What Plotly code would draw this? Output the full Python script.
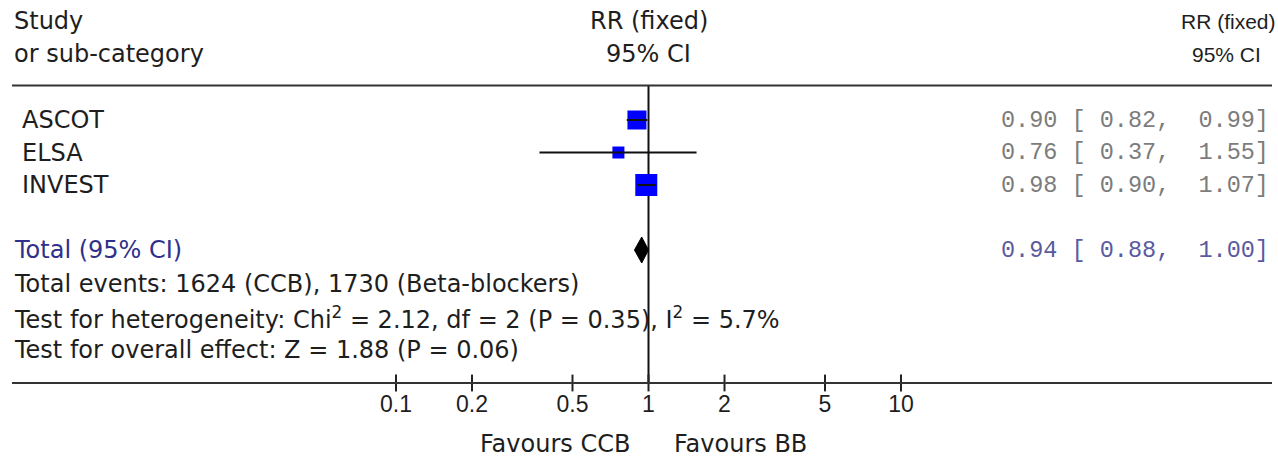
import math
import plotly.graph_objects as go

# Study-level risk ratios (fixed effect) with 95% CI
studies = ["ASCOT", "ELSA", "INVEST"]
rr = [0.90, 0.76, 0.98]
ci_low = [0.82, 0.37, 0.90]
ci_high = [0.99, 1.55, 1.07]

# Pooled estimate
total_label = "Total (95% CI)"
total_rr = 0.94
total_low = 0.88
total_high = 1.00

# Axis ticks
tick_vals = [0.1, 0.2, 0.5, 1, 2, 5, 10]
tick_text = ["0.1", "0.2", "0.5", "1", "2", "5", "10"]

footnotes = [
    "Total events: 1624 (CCB), 1730 (Beta-blockers)",
    "Test for heterogeneity: Chi<sup>2</sup> = 2.12, df = 2 (P = 0.35), I<sup>2</sup> = 5.7%",
    "Test for overall effect: Z = 1.88 (P = 0.06)",
]
favours_left = "Favours CCB"
favours_right = "Favours BB"

# ---- layout constants (pixels, y measured from the top) ----
W, H = 1278, 461
X_ONE = 648.5          # pixel column of RR = 1
DECADE = 252.5         # pixels per log10 unit
row_y = [120, 152.5, 185]
total_y = 250
foot_y = [284, 318, 350]
header_line_y = 85.5
axis_y = 383
box_px = [19, 12, 22]  # square size per study (weight)

WIDE = "DejaVu Sans, Verdana, sans-serif"
SANS = "Liberation Sans, Arial, sans-serif"
MONO = "Liberation Mono, Courier New, monospace"
TXT = "#1e1e1e"
GREY = "#7c7c7c"
NAVY = "#30308c"
NAVY_NUM = "#5a5aa0"

x_left = -X_ONE / DECADE
x_right = (W - X_ONE) / DECADE

fig = go.Figure()

# line of no effect
fig.add_trace(go.Scatter(x=[1, 1], y=[header_line_y, axis_y], mode="lines",
                         line=dict(color="#111", width=2), hoverinfo="skip"))

# study squares
fig.add_trace(go.Scatter(x=rr, y=row_y, mode="markers",
                         marker=dict(symbol="square", size=box_px, color="#0000ff",
                                     opacity=1, line=dict(width=0)),
                         hoverinfo="skip"))

# confidence interval whiskers (drawn over the squares)
cx, cy = [], []
for lo, hi, y in zip(ci_low, ci_high, row_y):
    cx += [lo, hi, None]
    cy += [y, y, None]
fig.add_trace(go.Scatter(x=cx, y=cy, mode="lines",
                         line=dict(color="#111", width=2), hoverinfo="skip"))

# pooled diamond
half_h = 13
fig.add_trace(go.Scatter(
    x=[total_low, total_rr, total_high, total_rr, total_low],
    y=[total_y, total_y - half_h, total_y, total_y + half_h, total_y],
    mode="lines", fill="toself", fillcolor="#000", line=dict(color="#000", width=1),
    hoverinfo="skip"))

# tick marks crossing the axis line
fig.add_trace(go.Scatter(x=tick_vals, y=[axis_y] * len(tick_vals), mode="markers",
                         marker=dict(symbol="line-ns", size=12,
                                     line=dict(color="#222", width=2)),
                         hoverinfo="skip"))

# header and axis rules
for yy in (header_line_y, axis_y):
    fig.add_shape(type="line", xref="paper", yref="y", x0=12 / W, x1=1272 / W,
                  y0=yy, y1=yy, line=dict(color="#333", width=2))


def label(x, y, text, xanchor="left", font=WIDE, size=24, color=TXT, xref="paper"):
    fig.add_annotation(x=x, y=y, xref=xref, yref="y", text=text, showarrow=False,
                       xanchor=xanchor, yanchor="middle",
                       font=dict(family=font, size=size, color=color))


# column headers
label(12 / W, 21, "Study")
label(12 / W, 54, "or sub-category")
label(math.log10(1), 21, "RR (fixed)", xanchor="center", xref="x")
label(math.log10(1), 54, "95% CI", xanchor="center", xref="x")
label(1228 / W, 21, "RR (fixed)", xanchor="center", font=SANS, size=21)
label(1226 / W, 54, "95% CI", xanchor="center", font=SANS, size=21)

# study rows
for name, est, lo, hi, y in zip(studies, rr, ci_low, ci_high, row_y):
    label(20 / W, y, name)
    label(1271 / W, y, f"{est:.2f} [{lo:5.2f}, {hi:5.2f}]", xanchor="right",
          font=MONO, size=23.5, color=GREY)

# pooled row
label(12 / W, total_y, total_label, color=NAVY)
label(1271 / W, total_y, f"{total_rr:.2f} [{total_low:5.2f}, {total_high:5.2f}]",
      xanchor="right", font=MONO, size=23.5, color=NAVY_NUM)

for text, y in zip(footnotes, foot_y):
    label(12 / W, y, text)

# favours labels either side of RR = 1
label(632 / W, 444, favours_left, xanchor="right")
label(672 / W, 444, favours_right, xanchor="left")

fig.update_layout(
    width=W, height=H, margin=dict(l=0, r=0, t=0, b=0),
    paper_bgcolor="white", plot_bgcolor="white", showlegend=False,
    xaxis=dict(type="log", range=[x_left, x_right], domain=[0, 1],
               showgrid=False, zeroline=False, showline=False, ticks="",
               tickvals=tick_vals, ticktext=tick_text,
               anchor="free", position=1 - axis_y / H, ticklabelstandoff=5,
               tickfont=dict(family=SANS, size=23, color=TXT), fixedrange=True),
    yaxis=dict(range=[H, 0], domain=[0, 1], visible=False, fixedrange=True),
)

fig.write_html("out.html")
